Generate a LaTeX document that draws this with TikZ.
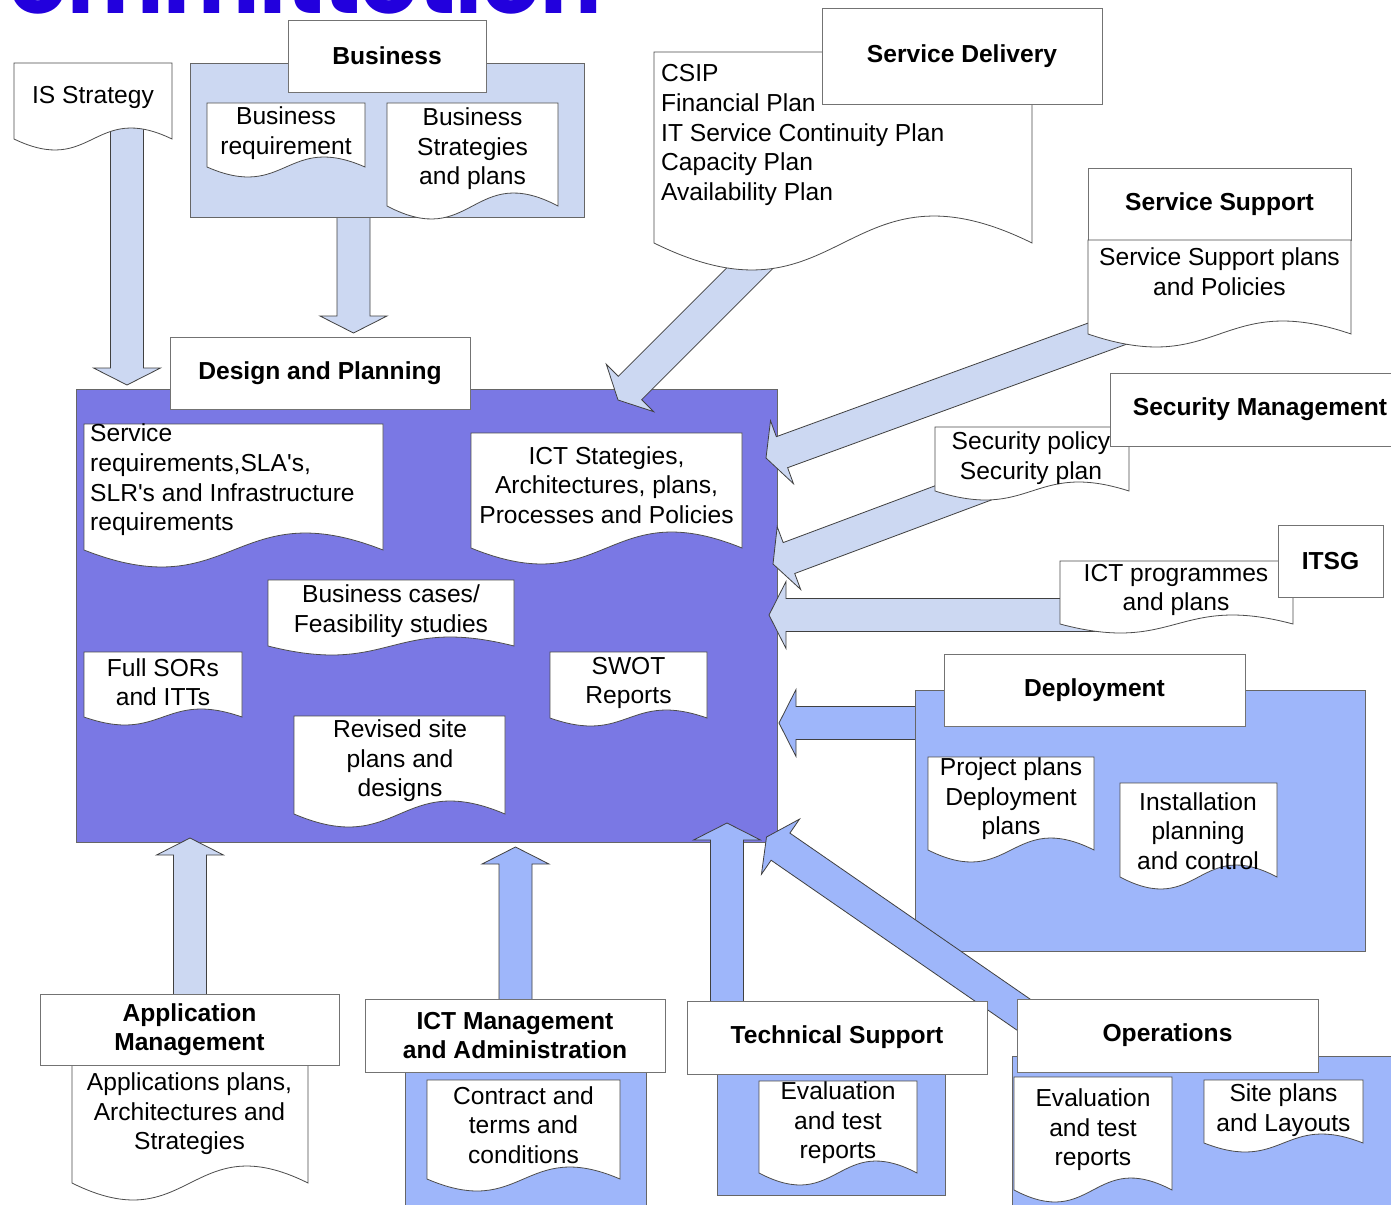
\documentclass[tikz,border=0pt]{standalone}
\usepackage{fontspec}
\setmainfont{Liberation Sans}
\newfontfamily\bannerfont{Poppins}
\usetikzlibrary{calc}

\definecolor{planfill}{HTML}{7A78E4}
\definecolor{paleblue}{HTML}{CCD8F2}
\definecolor{midblue}{HTML}{9EB6FA}
\definecolor{bannerblue}{HTML}{2200DD}

\tikzset{
  txt/.style={inner sep=0pt, align=center, yshift=-2pt, font=\fontsize{24.6}{29.6}\selectfont},
  lbl/.style={draw=black!55, fill=white, line width=0.9pt, inner sep=0pt, align=center,
              font=\fontsize{24.6}{29.6}\selectfont\bfseries},
  area/.style={draw=black!60, line width=0.9pt, inner sep=0pt, anchor=north west},
  docline/.style={draw=black!70, fill=white, line width=0.8pt},
  arrowline/.style={draw=black!75, line width=0.8pt, line join=miter},
}

% document sheet with a wavy lower edge: x0, y0 (top), x1, y1 (side bottoms), wave amplitude
\newcommand\docsheet[5]{%
  \path[docline] (#1,#2) -- (#3,#2) -- (#3,#4)
    .. controls ({(#1+#3)/2},{#4-3.46*#5}) and ({(#1+#3)/2},{#4+3.46*#5}) .. (#1,#4) -- cycle;}

% broad block arrow: fill colour, start coordinate, tip coordinate
\newcommand\fatarrow[3]{%
  \coordinate (fatH) at ($(#3)!17pt!(#2)$);
  \path[arrowline, fill=#1]
    ($(#2)!16.5pt!90:(#3)$) -- ($(fatH)!16.5pt!90:(#3)$) -- ($(fatH)!33.5pt!90:(#3)$)
    -- (#3) -- ($(fatH)!33.5pt!-90:(#3)$) -- ($(fatH)!16.5pt!-90:(#3)$)
    -- ($(#2)!16.5pt!-90:(#3)$) -- cycle;}

\newcommand\apos{\textquotesingle}

\begin{document}
\begin{tikzpicture}[x=1pt,y=-1pt]
\useasboundingbox (0,0) rectangle (1391,1204);
\fill[white] (0,0) rectangle (1391,1204);

% banner heading, cut by the top edge
\begin{scope}
  \clip (0,0) rectangle (1391,1204);
  \node[anchor=base west, inner sep=0pt, text=bannerblue,
        font=\bannerfont\bfseries\fontsize{91}{93}\selectfont] (banner) at (9,14) {ommittotion};
\end{scope}

% central planning area
\node[area, fill=planfill, minimum width=701pt, minimum height=453pt] (planarea) at (76,389) {};

% inputs into the planning area
\coordinate (isS) at (127,125);      \coordinate (isT) at (127,385);
\coordinate (bizS) at (353.5,200);   \coordinate (bizT) at (353.5,333);
\coordinate (sdS) at (773.5,244.5);  \coordinate (sdT) at (618,400);
\coordinate (ssS) at (1142,321);     \coordinate (ssT) at (766,458);
\coordinate (secS) at (1007,476.5);  \coordinate (secT) at (773,564);
\coordinate (itsgS) at (1110,615);   \coordinate (itsgT) at (769,615);
\coordinate (depS) at (930,723);     \coordinate (depT) at (779,723);
\coordinate (appS) at (190,1030);    \coordinate (appT) at (190,838);
\coordinate (ictS) at (515.5,1030);  \coordinate (ictT) at (515.5,847);
\coordinate (techS) at (727,1030);   \coordinate (techT) at (727,823);
\coordinate (opsS) at (1040,1026);   \coordinate (opsT) at (766.5,837);

\fatarrow{paleblue}{isS}{isT}
\fatarrow{paleblue}{bizS}{bizT}
\fatarrow{paleblue}{sdS}{sdT}
\fatarrow{paleblue}{ssS}{ssT}
\fatarrow{paleblue}{secS}{secT}
\fatarrow{paleblue}{itsgS}{itsgT}
\fatarrow{midblue}{depS}{depT}
\fatarrow{paleblue}{appS}{appT}
\fatarrow{midblue}{ictS}{ictT}
\fatarrow{midblue}{techS}{techT}

\node[area, fill=midblue, minimum width=450pt, minimum height=261pt] (deparea) at (915,690) {};
\fatarrow{midblue}{opsS}{opsT}

% group areas
\node[area, fill=paleblue, minimum width=394pt, minimum height=154pt] (bizarea) at (190,63) {};
\node[area, fill=midblue, minimum width=241pt, minimum height=150pt] (ictarea) at (405,1072) {};
\node[area, fill=midblue, minimum width=228pt, minimum height=121pt] (techarea) at (717,1074) {};
\node[area, fill=midblue, minimum width=400pt, minimum height=160pt] (opsarea) at (1012,1056) {};

% IS strategy
\docsheet{14}{63}{172}{139}{11}
\node[txt] (isdoc) at (93,95) {IS Strategy};

% business
\node[lbl, minimum width=198pt, minimum height=72pt] (business) at (387,56) {Business};
\docsheet{207}{103}{365}{167}{10}
\node[txt] (bizreq) at (286,131) {Business\\requirement};
\docsheet{387}{103}{558}{206}{13}
\node[txt] (bizstrat) at (472.5,147) {Business\\Strategies\\and plans};

% service delivery
\docsheet{654}{52}{1032}{243}{27}
\node[txt, align=left, anchor=west] (sdplans) at (661,133) {CSIP\\Financial Plan\\IT Service Continuity Plan\\Capacity Plan\\Availability Plan};
\node[lbl, minimum width=280pt, minimum height=96pt] (servdel) at (962,56) {Service Delivery};

% service support
\node[lbl, minimum width=263pt, minimum height=72pt] (servsup) at (1219.5,204) {Service Support};
\docsheet{1088}{240}{1351}{334}{13}
\node[txt] (ssplans) at (1219.5,270) {Service Support plans\\and Policies};

% security management
\docsheet{935}{427}{1129}{491}{9}
\node[lbl, minimum width=300pt, minimum height=73pt] (secmgmt) at (1260,409.5) {Security Management};
\node[txt] (secplans) at (1031,456) {Security policy\\Security plan};

% ITSG
\docsheet{1060}{561}{1293}{624}{9}
\node[txt] (ictprog) at (1176,588) {ICT programmes\\and plans};
\node[lbl, minimum width=105pt, minimum height=72pt] (itsg) at (1330.5,561) {ITSG};

% deployment
\node[lbl, minimum width=301pt, minimum height=72pt] (deploy) at (1094.5,690) {Deployment};
\docsheet{928}{757}{1094}{850}{12}
\node[txt] (projplans) at (1011,797) {Project plans\\Deployment\\plans};
\docsheet{1120}{783}{1277}{877}{12}
\node[txt] (install) at (1198,829) {Installation\\planning\\and control};

% design and planning contents
\node[lbl, minimum width=300pt, minimum height=72pt] (design) at (320,373) {Design and Planning};
\docsheet{84}{424}{383}{550}{17}
\node[txt, align=left, anchor=west] (servreq) at (90,478) {Service\\requirements,SLA\apos s,\\SLR\apos s and Infrastructure\\requirements};
\docsheet{471}{433}{742}{548}{16}
\node[txt] (ictstrat) at (606.5,483) {ICT Stategies,\\Architectures, plans,\\Processes and Policies};
\docsheet{268}{580}{514}{646}{9}
\node[txt] (bizcases) at (391,609) {Business cases/\\Feasibility studies};
\docsheet{84}{652}{242}{717}{8}
\node[txt] (sors) at (163,680) {Full SORs\\and ITTs};
\docsheet{550}{652}{707}{718}{8}
\node[txt] (swot) at (628.5,681) {SWOT\\Reports};
\docsheet{294}{716}{505}{814}{13}
\node[txt] (revised) at (400,759) {Revised site\\plans and\\designs};

% application management
\docsheet{72}{1064}{308}{1183}{17}
\node[lbl, minimum width=299pt, minimum height=71pt] (appmgmt) at (189.5,1029.5) {Application\\Management};
\node[txt] (appplans) at (189.5,1112) {Applications plans,\\Architectures and\\Strategies};

% ICT management and administration
\node[lbl, minimum width=300pt, minimum height=73pt] (ictmgmt) at (515,1035.5) {ICT Management\\and Administration};
\docsheet{427}{1080}{620}{1179}{12}
\node[txt] (contract) at (523.5,1123) {Contract and\\terms and\\conditions};

% technical support
\node[lbl, minimum width=300pt, minimum height=73pt] (techsup) at (837,1037.5) {Technical Support};
\docsheet{759}{1081}{917}{1173}{12}
\node[txt] (evaltech) at (838,1121) {Evaluation\\and test\\reports};

% operations
\node[lbl, minimum width=301pt, minimum height=73pt] (ops) at (1167.5,1035.5) {Operations};
\docsheet{1014}{1077}{1172}{1190}{12}
\node[txt] (evalops) at (1093,1128) {Evaluation\\and test\\reports};
\docsheet{1204}{1080}{1363}{1143}{9}
\node[txt] (siteplans) at (1283.5,1108) {Site plans\\and Layouts};
\end{tikzpicture}
\end{document}
